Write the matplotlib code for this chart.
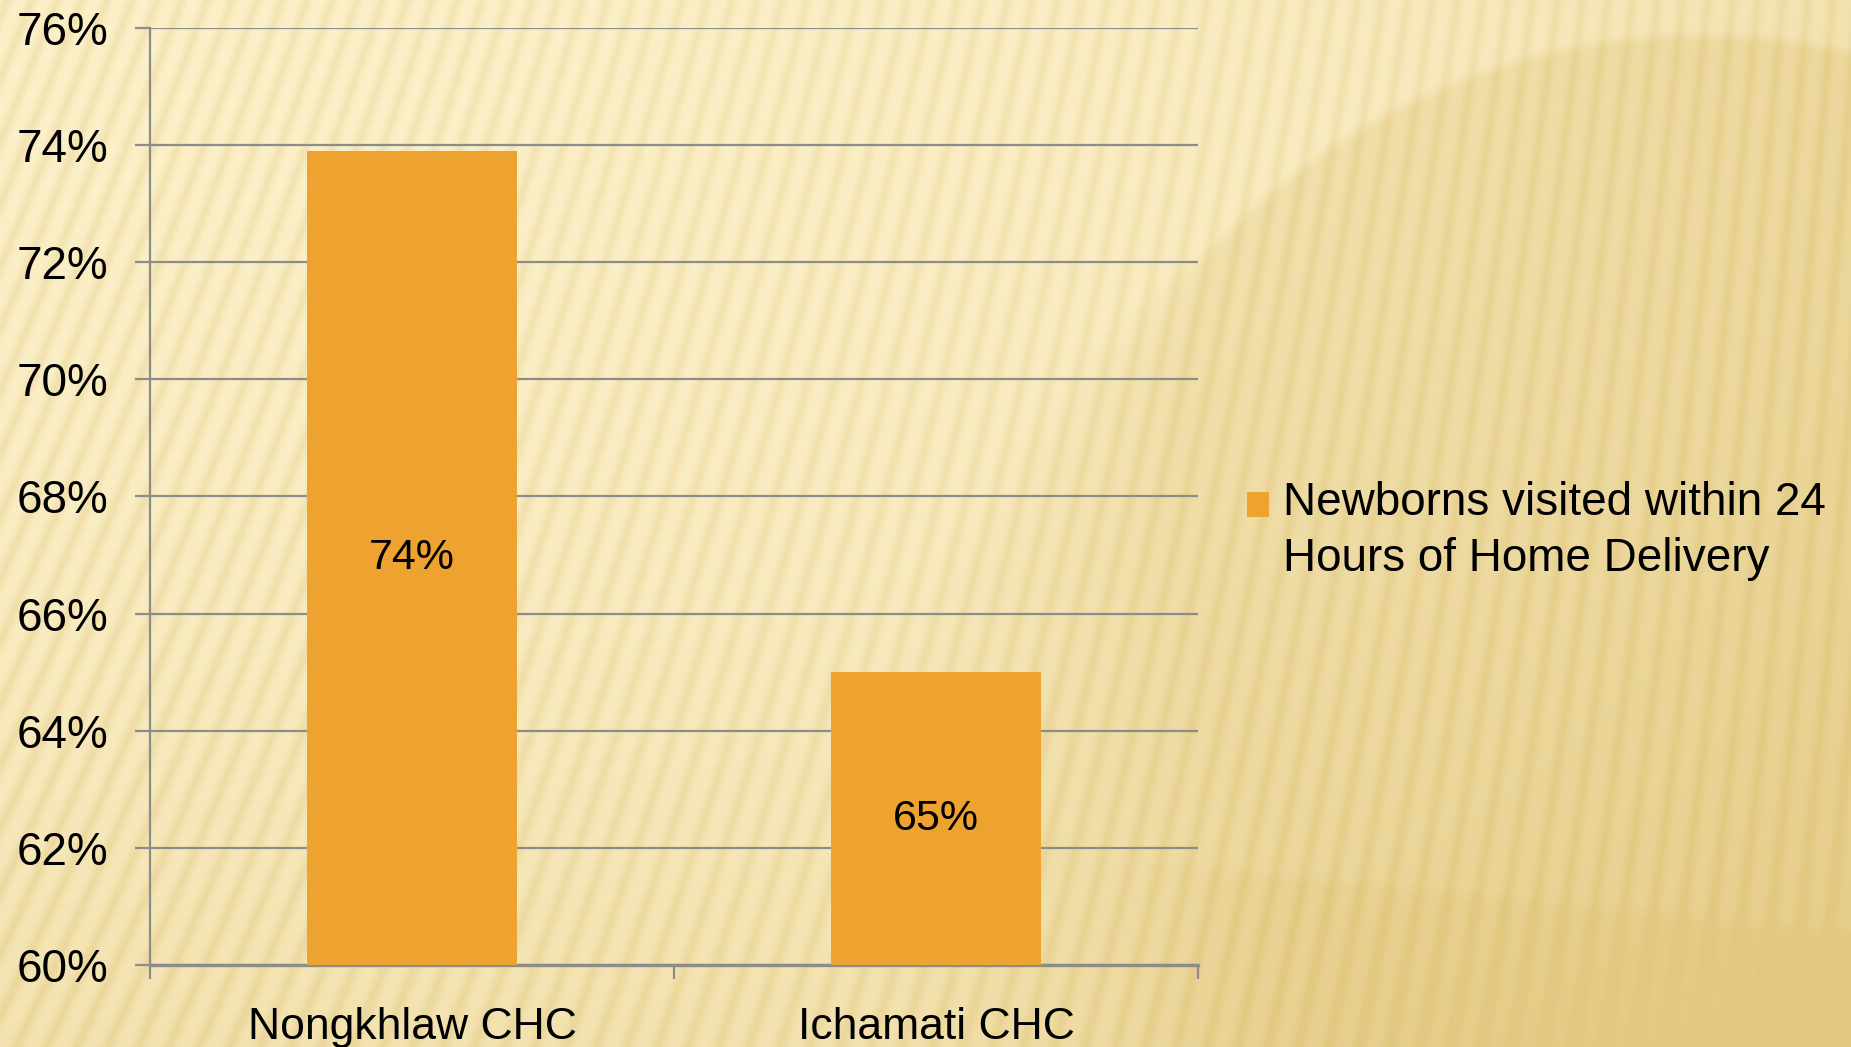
import numpy as np
import matplotlib
matplotlib.use('Agg')
import matplotlib.pyplot as plt
import matplotlib.ticker as ticker
from matplotlib.patches import Patch, Rectangle
from matplotlib.legend_handler import HandlerPatch

#%% Data

categories = ['Nongkhlaw CHC', 'Ichamati CHC']
values = [0.739, 0.65]
value_labels = ['74%', '65%']
series_name = 'Newborns visited within 24\nHours of Home Delivery'
y_ticks = [0.60, 0.62, 0.64, 0.66, 0.68, 0.70, 0.72, 0.74, 0.76]

#%% Style

plt.rcParams['font.family'] = ['Liberation Sans', 'DejaVu Sans']
bar_color = '#EEA22F'
grid_color = '#8C8C8C'
W, H, dpi = 1851, 1047, 100

fig = plt.figure(figsize=(W / dpi, H / dpi), dpi=dpi)

# Background: cream slide with slanted light streaks and a darker gold disc
bg = fig.add_axes([0, 0, 1, 1], zorder=-10)
yy, xx = np.mgrid[0:H, 0:W].astype(float)
xn = xx / W
yn = yy / H
t = 0.08 + 0.30 * yn ** 2 + 0.30 * xn ** 3
dist = np.sqrt((xx - 1700) ** 2 + (yy - 700) ** 2)
edge_w = 12 + 450 * np.clip((yy - 250) / 600, 0, 1)
t = t + 0.26 * np.clip((665 - dist) / edge_w + 0.5, 0, 1)
t = t + 0.10 * np.clip((yy - 860 - 0.1 * (xx - 1200)) / 15, 0, 1) * np.clip((xx - 1100) / 150, 0, 1)
slant = 0.40 - 0.32 * xn
phase = (xx + slant * yy) * 2 * np.pi / 25.0
streak = (0.5 + 0.5 * np.sin(phase)) ** 2
t = np.clip(t + (0.28 - 0.08 * xn) * streak, 0, 1)
light = np.array([253, 243, 206]) / 255
dark = np.array([226, 200, 128]) / 255
img = light[None, None, :] * (1 - t[..., None]) + dark[None, None, :] * t[..., None]
bg.imshow(img, aspect='auto', interpolation='bilinear', extent=[0, 1, 0, 1])
bg.set_axis_off()

#%% Chart

ax = fig.add_axes([150 / W, 1 - 965 / H, (1198 - 150) / W, (965 - 28) / H])
ax.patch.set_alpha(0)

x = np.arange(len(categories))
bars = ax.bar(x, values, width=0.4, color=bar_color, zorder=3, label=series_name)
ax.bar_label(bars, labels=value_labels, label_type='center', fontsize=31, color='black')

ax.set_xlim(-0.5, len(categories) - 0.5)
ax.set_ylim(y_ticks[0], y_ticks[-1])
ax.set_yticks(y_ticks)
ax.yaxis.set_major_formatter(ticker.PercentFormatter(1.0, decimals=0))
ax.yaxis.grid(True, color=grid_color, linewidth=1.6, zorder=0)
ax.set_axisbelow(True)

ax.set_xticks(x)
ax.set_xticklabels(categories)
ax.xaxis.set_minor_locator(ticker.FixedLocator(np.arange(-0.5, len(categories), 1.0)))
ax.tick_params(axis='x', which='major', length=0, pad=30, labelsize=32)
ax.tick_params(axis='x', which='minor', length=10, width=1.6, color=grid_color)
ax.tick_params(axis='y', length=11, width=1.6, color=grid_color, pad=19, labelsize=33)

for side in ['top', 'right']:
    ax.spines[side].set_visible(False)
ax.spines['left'].set_color(grid_color)
ax.spines['left'].set_linewidth(1.6)
ax.spines['bottom'].set_color(grid_color)
ax.spines['bottom'].set_linewidth(2.4)

# legend square sits beside the first line of the label
def square_at_first_line(legend, orig_handle, xdescent, ydescent, width, height, fontsize):
    return Rectangle((-xdescent, -ydescent + 19.5), width, height)

handle = Patch(facecolor=bar_color, edgecolor='none')
leg = fig.legend([handle], [series_name], loc='center left',
                 bbox_to_anchor=(1247 / W, 1 - 531 / H), frameon=False,
                 fontsize=33, handlelength=0.48, handleheight=0.48, handletextpad=0.3,
                 borderaxespad=0, borderpad=0,
                 handler_map={Patch: HandlerPatch(patch_func=square_at_first_line)})
for txt in leg.get_texts():
    txt.set_linespacing(1.36)

fig.savefig('out.png', dpi=dpi)
